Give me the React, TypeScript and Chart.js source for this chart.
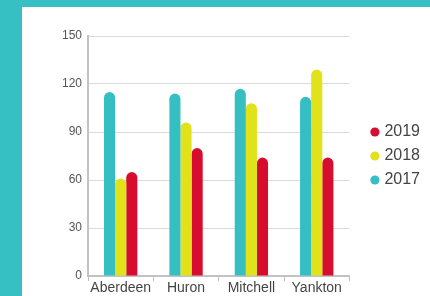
import React, { useEffect, useRef } from "react";
import { Chart, registerables } from "chart.js";

Chart.register(...registerables);

const categories = ["Aberdeen", "Huron", "Mitchell", "Yankton"];
const seriesNames = ["2017", "2018", "2019"];
const values2017 = [115, 114, 117, 112];
const values2018 = [61, 96, 108, 129];
const values2019 = [65, 80, 74, 74];
const colors = ["#36bfc3", "#e2e21a", "#d60d2e"];
const yTicks = [0, 30, 60, 90, 120, 150];

const FONT = "'Liberation Sans', Arial, sans-serif";

export default function App() {
  const ref = useRef<HTMLCanvasElement | null>(null);

  useEffect(() => {
    const canvas = ref.current;
    if (!canvas) return;
    const series = [values2017, values2018, values2019];
    const chart = new Chart(canvas, {
      type: "bar",
      data: {
        labels: categories,
        datasets: series.map((vals, i) => ({
          label: seriesNames[i],
          data: vals,
          backgroundColor: colors[i],
          borderRadius: 6,
          borderSkipped: "bottom",
          categoryPercentage: 0.51,
          barPercentage: 1.0,
          pointStyle: "circle",
        })),
      },
      options: {
        responsive: false,
        animation: false,
        devicePixelRatio: 1,
        layout: { padding: { top: 29, left: 0, right: 0, bottom: 0 } },
        plugins: {
          tooltip: { enabled: false },
          legend: {
            position: "right",
            fullSize: false,
            reverse: true,
            labels: {
              usePointStyle: true,
              pointStyle: "circle",
              boxWidth: 3,
              boxHeight: 6.5,
              padding: 8,
              color: "#444",
              font: { family: FONT, size: 16 },
            },
          },
        },
        scales: {
          x: {
            grid: {
              display: true,
              offset: true,
              drawOnChartArea: false,
              drawTicks: true,
              tickLength: 5,
              color: "#bdbdbd",
            },
            border: { display: true, color: "#c2c2c2", width: 2 },
            ticks: {
              color: "#444",
              padding: -1,
              maxRotation: 0,
              minRotation: 0,
              autoSkip: false,
              font: { family: FONT, size: 14 },
            },
            afterFit: (s: any) => {
              s.height = 20;
            },
          },
          y: {
            min: 0,
            max: 150,
            afterBuildTicks: (s: any) => {
              s.ticks = yTicks.map((v) => ({ value: v }));
            },
            grid: { color: "#dadada", drawTicks: false },
            border: { display: true, color: "#c2c2c2", width: 2 },
            ticks: {
              color: "#555",
              padding: 6,
              font: { family: FONT, size: 12 },
            },
            afterFit: (s: any) => {
              s.width = 66;
            },
          },
          y2: {
            position: "right",
            display: true,
            grid: { display: false, drawTicks: false },
            border: { display: false },
            ticks: { display: false },
            afterFit: (s: any) => {
              s.width = 16;
            },
          },
        },
      },
    });
    return () => chart.destroy();
  }, []);

  return (
    <div style={{ position: "fixed", inset: 0, background: "#36c0c4" }}>
      <div
        style={{
          position: "absolute",
          left: 22,
          top: 7,
          right: 0,
          bottom: 0,
          background: "#ffffff",
        }}
      >
        <canvas
          ref={ref}
          width={408}
          height={289}
          style={{ display: "block", width: 408, height: 289 }}
        />
      </div>
    </div>
  );
}
